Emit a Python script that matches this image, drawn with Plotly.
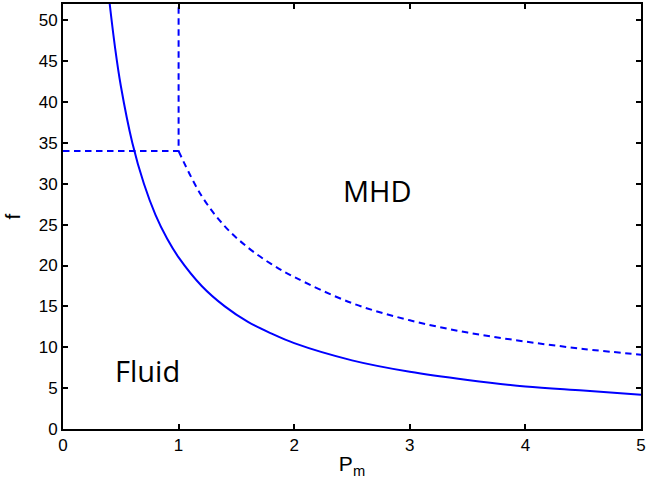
import plotly.graph_objects as go

# Solid boundary (fluid threshold)
pm_solid = [0.40, 0.45, 0.50, 0.60, 0.70, 0.80, 0.90, 1.00, 1.20, 1.40, 1.60, 1.80,
            2.00, 2.50, 3.00, 3.50, 4.00, 4.50, 5.00]
f_solid = [52.5, 46.7, 42.0, 35.0, 30.0, 26.2, 23.3, 21.0, 17.5, 15.0, 13.1, 11.7,
           10.5, 8.4, 7.0, 6.0, 5.2, 4.7, 4.2]

# Dashed boundary (MHD threshold): step part
pm_step = [0.0, 1.0, 1.0]
f_step = [34.0, 34.0, 52.0]

# Dashed boundary: curved part
pm_dash = [1.00, 1.20, 1.40, 1.60, 1.80, 2.00, 2.50, 3.00, 3.50, 4.00, 4.50, 5.00]
f_dash = [34.0, 28.5, 24.8, 22.2, 20.2, 18.6, 15.4, 13.3, 11.8, 10.7, 9.8, 9.1]

x_ticks = [0, 1, 2, 3, 4, 5]
y_ticks = [0, 5, 10, 15, 20, 25, 30, 35, 40, 45, 50]

region_labels = ["MHD", "Fluid"]
label_pm = [2.72, 0.73]
label_f = [29.2, 7.2]

blue = "#0000FF"

fig = go.Figure()
fig.add_trace(go.Scatter(x=pm_solid, y=f_solid, mode="lines",
                         line=dict(color=blue, width=2, shape="spline"),
                         showlegend=False))
fig.add_trace(go.Scatter(x=pm_step, y=f_step, mode="lines",
                         line=dict(color=blue, width=2, dash="6.5px,4.5px"),
                         showlegend=False))
fig.add_trace(go.Scatter(x=pm_dash, y=f_dash, mode="lines",
                         line=dict(color=blue, width=2, dash="6.5px,4.5px", shape="spline"),
                         showlegend=False))

for t, xx, yy in zip(region_labels, label_pm, label_f):
    fig.add_annotation(x=xx, y=yy, text=t, showarrow=False,
                       font=dict(family="Open Sans", size=29, color="black"))

axis_common = dict(showline=True, linecolor="black", linewidth=2, mirror="allticks",
                   ticks="inside", ticklen=5, tickwidth=1.5, tickcolor="black",
                   showgrid=False, zeroline=False,
                   tickfont=dict(family="Liberation Sans", size=17, color="black"))

fig.update_xaxes(range=[0, 5], tickvals=x_ticks, ticktext=[str(v) for v in x_ticks],
                 title=dict(text="P<sub>m</sub>", font=dict(family="Liberation Sans", size=21, color="black"),
                            standoff=2),
                 **axis_common)
fig.update_yaxes(range=[0, 52], tickvals=y_ticks, ticktext=[str(v) for v in y_ticks],
                 title=dict(text="f", font=dict(family="Liberation Sans", size=21, color="black"),
                            standoff=12),
                 **axis_common)

fig.update_layout(width=646, height=482,
                  margin=dict(l=63, r=5, t=4, b=53, autoexpand=False),
                  plot_bgcolor="white", paper_bgcolor="white")

fig.write_html("out.html", config={"displayModeBar": False},
               post_script="document.body.style.margin='0';document.body.style.overflow='hidden';")
